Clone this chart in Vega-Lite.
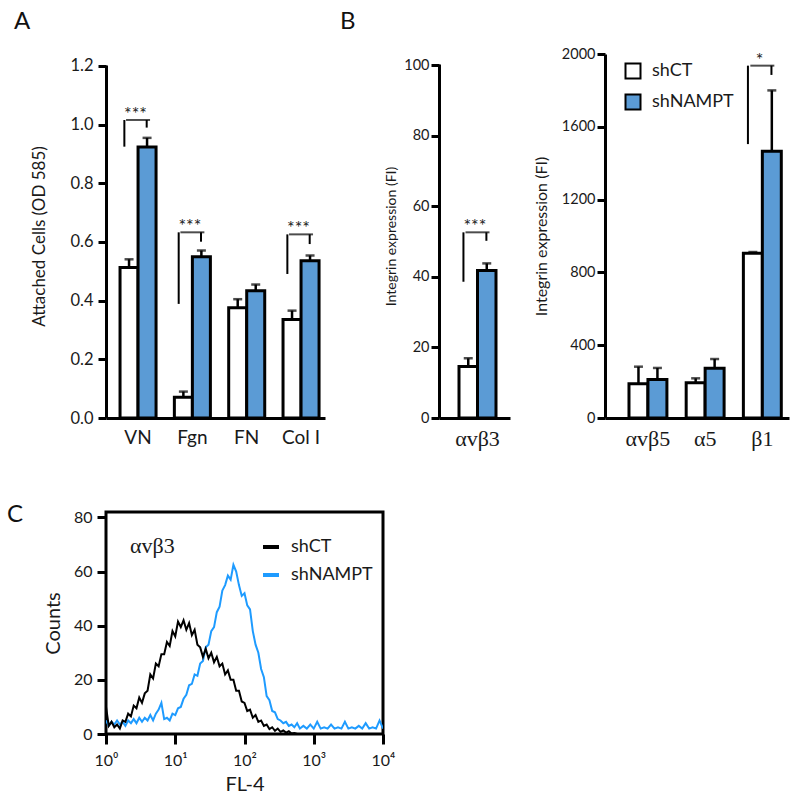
{
  "$schema": "https://vega.github.io/schema/vega-lite/v6.json",
  "autosize": {"type": "pad"},
  "padding": {"left": 5, "top": 10, "right": 5, "bottom": 5},
  "columns": 3,
  "align": "each",
  "bounds": "flush",
  "spacing": {"row": 94, "column": 56},
  "resolve": {"scale": {"fill": "independent", "xOffset": "independent", "stroke": "independent"}, "legend": {"fill": "independent", "stroke": "independent"}},
  "datasets": {
    "barsA": [
      {"cat": "VN", "group": "shCT", "value": 0.513, "hi": 0.541},
      {"cat": "VN", "group": "shNAMPT", "value": 0.924, "hi": 0.955},
      {"cat": "Fgn", "group": "shCT", "value": 0.071, "hi": 0.09},
      {"cat": "Fgn", "group": "shNAMPT", "value": 0.55, "hi": 0.571},
      {"cat": "FN", "group": "shCT", "value": 0.376, "hi": 0.405},
      {"cat": "FN", "group": "shNAMPT", "value": 0.434, "hi": 0.455},
      {"cat": "Col I", "group": "shCT", "value": 0.336, "hi": 0.366},
      {"cat": "Col I", "group": "shNAMPT", "value": 0.536, "hi": 0.554}
    ],
    "brA": [
      {"cat": "VN", "low1": 0.925, "top": 1.016, "low2": 0.99, "stars": "***"},
      {"cat": "Fgn", "low1": 0.389, "top": 0.633, "low2": 0.601, "stars": "***"},
      {"cat": "Col I", "low1": 0.491, "top": 0.626, "low2": 0.593, "stars": "***"}
    ],
    "barsBL": [
      {"cat": "αvβ3", "group": "shCT", "value": 14.6, "hi": 16.9},
      {"cat": "αvβ3", "group": "shNAMPT", "value": 41.8, "hi": 43.8}
    ],
    "brBL": [
      {"cat": "αvβ3", "low1": 38.6, "top": 52.6, "low2": 50.2, "stars": "***"}
    ],
    "barsBR": [
      {"cat": "αvβ5", "group": "shCT", "value": 188, "hi": 282},
      {"cat": "αvβ5", "group": "shNAMPT", "value": 212, "hi": 275},
      {"cat": "α5", "group": "shCT", "value": 194, "hi": 218},
      {"cat": "α5", "group": "shNAMPT", "value": 273, "hi": 324},
      {"cat": "β1", "group": "shCT", "value": 905, "hi": 912},
      {"cat": "β1", "group": "shNAMPT", "value": 1465, "hi": 1800}
    ],
    "brBR": [
      {"cat": "β1", "low1": 1505, "top": 1936, "low2": 1885, "stars": "*"}
    ],
    "flow": [
      {"sample": "shNAMPT", "fl": 1, "count": 5},
      {"sample": "shNAMPT", "fl": 1.096, "count": 3},
      {"sample": "shNAMPT", "fl": 1.202, "count": 4.5},
      {"sample": "shNAMPT", "fl": 1.318, "count": 3.5},
      {"sample": "shNAMPT", "fl": 1.445, "count": 5},
      {"sample": "shNAMPT", "fl": 1.585, "count": 3.5},
      {"sample": "shNAMPT", "fl": 1.738, "count": 4.5},
      {"sample": "shNAMPT", "fl": 1.905, "count": 3},
      {"sample": "shNAMPT", "fl": 2.089, "count": 5},
      {"sample": "shNAMPT", "fl": 2.291, "count": 4},
      {"sample": "shNAMPT", "fl": 2.512, "count": 5.5},
      {"sample": "shNAMPT", "fl": 2.754, "count": 4},
      {"sample": "shNAMPT", "fl": 3.02, "count": 6},
      {"sample": "shNAMPT", "fl": 3.311, "count": 4.5},
      {"sample": "shNAMPT", "fl": 3.631, "count": 6},
      {"sample": "shNAMPT", "fl": 3.981, "count": 5},
      {"sample": "shNAMPT", "fl": 4.365, "count": 7},
      {"sample": "shNAMPT", "fl": 4.786, "count": 5},
      {"sample": "shNAMPT", "fl": 5.248, "count": 7.5},
      {"sample": "shNAMPT", "fl": 5.754, "count": 9},
      {"sample": "shNAMPT", "fl": 6.31, "count": 11.5},
      {"sample": "shNAMPT", "fl": 6.918, "count": 5.5},
      {"sample": "shNAMPT", "fl": 7.586, "count": 6},
      {"sample": "shNAMPT", "fl": 8.318, "count": 5},
      {"sample": "shNAMPT", "fl": 9.12, "count": 7.5},
      {"sample": "shNAMPT", "fl": 10, "count": 7},
      {"sample": "shNAMPT", "fl": 10.96, "count": 9.5},
      {"sample": "shNAMPT", "fl": 12.02, "count": 10},
      {"sample": "shNAMPT", "fl": 13.18, "count": 13},
      {"sample": "shNAMPT", "fl": 14.45, "count": 14.5},
      {"sample": "shNAMPT", "fl": 15.85, "count": 18},
      {"sample": "shNAMPT", "fl": 17.38, "count": 18.5},
      {"sample": "shNAMPT", "fl": 19.05, "count": 22},
      {"sample": "shNAMPT", "fl": 20.89, "count": 21.5},
      {"sample": "shNAMPT", "fl": 22.91, "count": 26},
      {"sample": "shNAMPT", "fl": 25.12, "count": 27},
      {"sample": "shNAMPT", "fl": 27.54, "count": 32},
      {"sample": "shNAMPT", "fl": 30.2, "count": 33},
      {"sample": "shNAMPT", "fl": 33.11, "count": 38},
      {"sample": "shNAMPT", "fl": 36.31, "count": 39.5},
      {"sample": "shNAMPT", "fl": 39.81, "count": 45},
      {"sample": "shNAMPT", "fl": 43.65, "count": 47},
      {"sample": "shNAMPT", "fl": 47.86, "count": 53},
      {"sample": "shNAMPT", "fl": 52.48, "count": 55},
      {"sample": "shNAMPT", "fl": 57.54, "count": 58.5},
      {"sample": "shNAMPT", "fl": 63.1, "count": 57},
      {"sample": "shNAMPT", "fl": 69.18, "count": 62.5},
      {"sample": "shNAMPT", "fl": 75.86, "count": 60},
      {"sample": "shNAMPT", "fl": 83.18, "count": 55},
      {"sample": "shNAMPT", "fl": 91.2, "count": 51},
      {"sample": "shNAMPT", "fl": 100, "count": 52},
      {"sample": "shNAMPT", "fl": 109.6, "count": 47.5},
      {"sample": "shNAMPT", "fl": 120.2, "count": 46},
      {"sample": "shNAMPT", "fl": 131.8, "count": 38},
      {"sample": "shNAMPT", "fl": 144.5, "count": 33},
      {"sample": "shNAMPT", "fl": 158.5, "count": 30},
      {"sample": "shNAMPT", "fl": 173.8, "count": 24},
      {"sample": "shNAMPT", "fl": 190.5, "count": 21},
      {"sample": "shNAMPT", "fl": 208.9, "count": 14},
      {"sample": "shNAMPT", "fl": 229.1, "count": 12.5},
      {"sample": "shNAMPT", "fl": 251.2, "count": 8.5},
      {"sample": "shNAMPT", "fl": 275.4, "count": 8},
      {"sample": "shNAMPT", "fl": 302, "count": 5.5},
      {"sample": "shNAMPT", "fl": 331.1, "count": 5},
      {"sample": "shNAMPT", "fl": 363.1, "count": 4},
      {"sample": "shNAMPT", "fl": 398.1, "count": 4.5},
      {"sample": "shNAMPT", "fl": 436.5, "count": 3},
      {"sample": "shNAMPT", "fl": 478.6, "count": 3.5},
      {"sample": "shNAMPT", "fl": 524.8, "count": 2.5},
      {"sample": "shNAMPT", "fl": 575.4, "count": 4},
      {"sample": "shNAMPT", "fl": 631, "count": 2},
      {"sample": "shNAMPT", "fl": 707.9, "count": 3},
      {"sample": "shNAMPT", "fl": 794.3, "count": 2},
      {"sample": "shNAMPT", "fl": 891.3, "count": 3.5},
      {"sample": "shNAMPT", "fl": 1000, "count": 2},
      {"sample": "shNAMPT", "fl": 1122, "count": 4.5},
      {"sample": "shNAMPT", "fl": 1259, "count": 2},
      {"sample": "shNAMPT", "fl": 1413, "count": 2.5},
      {"sample": "shNAMPT", "fl": 1585, "count": 2},
      {"sample": "shNAMPT", "fl": 1778, "count": 3.5},
      {"sample": "shNAMPT", "fl": 1995, "count": 2},
      {"sample": "shNAMPT", "fl": 2239, "count": 2.5},
      {"sample": "shNAMPT", "fl": 2512, "count": 2},
      {"sample": "shNAMPT", "fl": 2818, "count": 4.5},
      {"sample": "shNAMPT", "fl": 3162, "count": 2},
      {"sample": "shNAMPT", "fl": 3548, "count": 2.5},
      {"sample": "shNAMPT", "fl": 3981, "count": 2},
      {"sample": "shNAMPT", "fl": 4467, "count": 3},
      {"sample": "shNAMPT", "fl": 5012, "count": 2},
      {"sample": "shNAMPT", "fl": 5623, "count": 4},
      {"sample": "shNAMPT", "fl": 6310, "count": 2},
      {"sample": "shNAMPT", "fl": 7079, "count": 2.5},
      {"sample": "shNAMPT", "fl": 7943, "count": 2},
      {"sample": "shNAMPT", "fl": 8913, "count": 5},
      {"sample": "shNAMPT", "fl": 10000, "count": 2},
      {"sample": "shCT", "fl": 1, "count": 10},
      {"sample": "shCT", "fl": 1.096, "count": 3},
      {"sample": "shCT", "fl": 1.202, "count": 4.5},
      {"sample": "shCT", "fl": 1.318, "count": 2.5},
      {"sample": "shCT", "fl": 1.445, "count": 3.5},
      {"sample": "shCT", "fl": 1.585, "count": 2},
      {"sample": "shCT", "fl": 1.738, "count": 5},
      {"sample": "shCT", "fl": 1.905, "count": 4.5},
      {"sample": "shCT", "fl": 2.089, "count": 7.5},
      {"sample": "shCT", "fl": 2.291, "count": 6.5},
      {"sample": "shCT", "fl": 2.512, "count": 10.5},
      {"sample": "shCT", "fl": 2.754, "count": 9.5},
      {"sample": "shCT", "fl": 3.02, "count": 13.5},
      {"sample": "shCT", "fl": 3.311, "count": 11.5},
      {"sample": "shCT", "fl": 3.631, "count": 15},
      {"sample": "shCT", "fl": 3.981, "count": 16},
      {"sample": "shCT", "fl": 4.365, "count": 22},
      {"sample": "shCT", "fl": 4.786, "count": 20.5},
      {"sample": "shCT", "fl": 5.248, "count": 26},
      {"sample": "shCT", "fl": 5.754, "count": 25},
      {"sample": "shCT", "fl": 6.31, "count": 29.5},
      {"sample": "shCT", "fl": 6.918, "count": 29.5},
      {"sample": "shCT", "fl": 7.586, "count": 34},
      {"sample": "shCT", "fl": 8.318, "count": 32.5},
      {"sample": "shCT", "fl": 9.12, "count": 38},
      {"sample": "shCT", "fl": 10, "count": 36},
      {"sample": "shCT", "fl": 10.96, "count": 41.5},
      {"sample": "shCT", "fl": 12.02, "count": 39.5},
      {"sample": "shCT", "fl": 13.18, "count": 42},
      {"sample": "shCT", "fl": 14.45, "count": 38.5},
      {"sample": "shCT", "fl": 15.85, "count": 41},
      {"sample": "shCT", "fl": 17.38, "count": 36.5},
      {"sample": "shCT", "fl": 19.05, "count": 38.5},
      {"sample": "shCT", "fl": 20.89, "count": 33},
      {"sample": "shCT", "fl": 22.91, "count": 32},
      {"sample": "shCT", "fl": 25.12, "count": 28.5},
      {"sample": "shCT", "fl": 27.54, "count": 31.5},
      {"sample": "shCT", "fl": 30.2, "count": 28},
      {"sample": "shCT", "fl": 33.11, "count": 30},
      {"sample": "shCT", "fl": 36.31, "count": 26.5},
      {"sample": "shCT", "fl": 39.81, "count": 28.5},
      {"sample": "shCT", "fl": 43.65, "count": 25},
      {"sample": "shCT", "fl": 47.86, "count": 26},
      {"sample": "shCT", "fl": 52.48, "count": 22},
      {"sample": "shCT", "fl": 57.54, "count": 23.5},
      {"sample": "shCT", "fl": 63.1, "count": 20},
      {"sample": "shCT", "fl": 69.18, "count": 20},
      {"sample": "shCT", "fl": 75.86, "count": 16},
      {"sample": "shCT", "fl": 83.18, "count": 16},
      {"sample": "shCT", "fl": 91.2, "count": 12},
      {"sample": "shCT", "fl": 100, "count": 11.5},
      {"sample": "shCT", "fl": 109.6, "count": 8.5},
      {"sample": "shCT", "fl": 120.2, "count": 9},
      {"sample": "shCT", "fl": 131.8, "count": 6},
      {"sample": "shCT", "fl": 144.5, "count": 7},
      {"sample": "shCT", "fl": 158.5, "count": 4.5},
      {"sample": "shCT", "fl": 173.8, "count": 5},
      {"sample": "shCT", "fl": 190.5, "count": 3},
      {"sample": "shCT", "fl": 208.9, "count": 3.5},
      {"sample": "shCT", "fl": 229.1, "count": 1.8},
      {"sample": "shCT", "fl": 251.2, "count": 2.5},
      {"sample": "shCT", "fl": 275.4, "count": 1.2},
      {"sample": "shCT", "fl": 302, "count": 2},
      {"sample": "shCT", "fl": 331.1, "count": 0.8},
      {"sample": "shCT", "fl": 363.1, "count": 1.3},
      {"sample": "shCT", "fl": 398.1, "count": 0.5},
      {"sample": "shCT", "fl": 436.5, "count": 1},
      {"sample": "shCT", "fl": 478.6, "count": 0.2},
      {"sample": "shCT", "fl": 524.8, "count": 0.4},
      {"sample": "shCT", "fl": 575.4, "count": 0},
      {"sample": "shCT", "fl": 631, "count": 0}
    ]
  },
  "concat": [
    {
      "width": 277,
      "height": 364,
      "title": {"text": "A", "anchor": "start", "frame": "group", "dx": -92, "offset": 20, "fontSize": 24, "fontWeight": "normal", "font": "Lato", "color": "#111111"},
      "layer": [
        {
          "data": {"name": "barsA"},
          "mark": {"type": "bar", "stroke": "black", "strokeWidth": 3},
          "encoding": {
            "x": {"field": "cat", "type": "nominal", "scale": {"domain": ["VN", "Fgn", "FN", "Col I"], "paddingInner": 0.337, "paddingOuter": 0.7176, "align": 0.18}, "axis": {"title": null, "labelAngle": 0, "ticks": false, "tickSize": 0, "labelPadding": 10, "labelFontSize": 19, "domainDash": [219, 400]}},
            "xOffset": {"field": "group", "type": "nominal", "scale": {"domain": ["shCT", "shNAMPT"], "paddingInner": 0, "paddingOuter": 0}},
            "y": {"field": "value", "type": "quantitative", "stack": null, "scale": {"domain": [0, 1.2409], "nice": false}, "axis": {"title": "Attached Cells (OD 585)", "values": [0, 0.2, 0.4, 0.6, 0.8, 1, 1.2], "format": ".1f", "domainDash": [353, 400], "titlePadding": 21, "titleFontSize": 17, "labelFontSize": 16.5, "labelPadding": 5}},
            "fill": {"field": "group", "type": "nominal", "scale": {"domain": ["shCT", "shNAMPT"], "range": ["#ffffff", "#5b9bd5"]}, "legend": null}
          }
        },
        {
          "data": {"name": "barsA"},
          "mark": {"type": "rule", "color": "black", "strokeWidth": 2.5},
          "encoding": {
            "x": {"field": "cat", "type": "nominal"},
            "xOffset": {"field": "group", "type": "nominal"},
            "y": {"field": "value", "type": "quantitative"},
            "y2": {"field": "hi"}
          }
        },
        {
          "data": {"name": "barsA"},
          "mark": {"type": "tick", "orient": "horizontal", "color": "black", "size": 9, "thickness": 2.5},
          "encoding": {
            "x": {"field": "cat", "type": "nominal"},
            "xOffset": {"field": "group", "type": "nominal"},
            "y": {"field": "hi", "type": "quantitative"}
          }
        },
        {
          "data": {"name": "brA"},
          "mark": {"type": "rule", "color": "black", "strokeWidth": 2},
          "encoding": {
            "x": {"field": "cat", "type": "nominal", "bandPosition": 0.12},
            "y": {"field": "low1", "type": "quantitative"},
            "y2": {"field": "top"}
          }
        },
        {
          "data": {"name": "brA"},
          "mark": {"type": "rule", "color": "black", "strokeWidth": 2},
          "encoding": {
            "x": {"field": "cat", "type": "nominal", "bandPosition": 0.74},
            "y": {"field": "low2", "type": "quantitative"},
            "y2": {"field": "top"}
          }
        },
        {
          "data": {"name": "brA"},
          "mark": {"type": "tick", "orient": "horizontal", "color": "black", "size": 24, "thickness": 2},
          "encoding": {
            "x": {"field": "cat", "type": "nominal", "bandPosition": 0.43},
            "y": {"field": "top", "type": "quantitative"}
          }
        },
        {
          "data": {"name": "brA"},
          "mark": {"type": "text", "fontSize": 18, "baseline": "alphabetic", "color": "#1a1a1a", "font": "Lato"},
          "encoding": {
            "x": {"field": "cat", "type": "nominal", "bandPosition": 0.43},
            "y": {"field": "top", "type": "quantitative"},
            "text": {"field": "stars"}
          }
        }
      ]
    },
    {
      "width": 110,
      "height": 364,
      "title": {"text": "B", "anchor": "start", "frame": "group", "dx": -99, "offset": 20, "fontSize": 24, "fontWeight": "normal", "font": "Lato", "color": "#111111"},
      "layer": [
        {
          "data": {"name": "barsBL"},
          "mark": {"type": "bar", "stroke": "black", "strokeWidth": 3},
          "encoding": {
            "x": {"field": "cat", "type": "nominal", "scale": {"domain": ["αvβ3"], "paddingInner": 0.337, "paddingOuter": 0.654, "align": 0.274}, "axis": {"title": null, "labelAngle": 0, "ticks": false, "tickSize": 0, "labelPadding": 10, "labelFontSize": 22, "labelFont": "Liberation Serif", "domainDash": [71, 400]}},
            "xOffset": {"field": "group", "type": "nominal", "scale": {"domain": ["shCT", "shNAMPT"], "paddingInner": 0, "paddingOuter": 0}},
            "y": {"field": "value", "type": "quantitative", "stack": null, "scale": {"domain": [0, 103.12], "nice": false}, "axis": {"title": "Integrin expression (FI)", "values": [0, 20, 40, 60, 80, 100], "domainDash": [354, 400], "titlePadding": 5, "titleFontSize": 14, "labelFontSize": 14.5}},
            "fill": {"field": "group", "type": "nominal", "scale": {"domain": ["shCT", "shNAMPT"], "range": ["#ffffff", "#5b9bd5"]}, "legend": null}
          }
        },
        {
          "data": {"name": "barsBL"},
          "mark": {"type": "rule", "color": "black", "strokeWidth": 2.5},
          "encoding": {
            "x": {"field": "cat", "type": "nominal"},
            "xOffset": {"field": "group", "type": "nominal"},
            "y": {"field": "value", "type": "quantitative"},
            "y2": {"field": "hi"}
          }
        },
        {
          "data": {"name": "barsBL"},
          "mark": {"type": "tick", "orient": "horizontal", "color": "black", "size": 9, "thickness": 2.5},
          "encoding": {
            "x": {"field": "cat", "type": "nominal"},
            "xOffset": {"field": "group", "type": "nominal"},
            "y": {"field": "hi", "type": "quantitative"}
          }
        },
        {
          "data": {"name": "brBL"},
          "mark": {"type": "rule", "color": "black", "strokeWidth": 2},
          "encoding": {
            "x": {"field": "cat", "type": "nominal", "bandPosition": 0.12},
            "y": {"field": "low1", "type": "quantitative"},
            "y2": {"field": "top"}
          }
        },
        {
          "data": {"name": "brBL"},
          "mark": {"type": "rule", "color": "black", "strokeWidth": 2},
          "encoding": {
            "x": {"field": "cat", "type": "nominal", "bandPosition": 0.74},
            "y": {"field": "low2", "type": "quantitative"},
            "y2": {"field": "top"}
          }
        },
        {
          "data": {"name": "brBL"},
          "mark": {"type": "tick", "orient": "horizontal", "color": "black", "size": 24, "thickness": 2},
          "encoding": {
            "x": {"field": "cat", "type": "nominal", "bandPosition": 0.43},
            "y": {"field": "top", "type": "quantitative"}
          }
        },
        {
          "data": {"name": "brBL"},
          "mark": {"type": "text", "fontSize": 18, "baseline": "alphabetic", "color": "#1a1a1a", "font": "Lato"},
          "encoding": {
            "x": {"field": "cat", "type": "nominal", "bandPosition": 0.43},
            "y": {"field": "top", "type": "quantitative"},
            "text": {"field": "stars"}
          }
        }
      ]
    },
    {
      "width": 184,
      "height": 364,
      "layer": [
        {
          "data": {"name": "barsBR"},
          "mark": {"type": "bar", "stroke": "black", "strokeWidth": 3},
          "encoding": {
            "x": {"field": "cat", "type": "nominal", "scale": {"domain": ["αvβ5", "α5", "β1"], "paddingInner": 0.337, "paddingOuter": 0.277, "align": 0.757}, "axis": {"title": null, "labelAngle": 0, "ticks": false, "tickSize": 0, "labelPadding": 10, "labelFontSize": 22, "labelFont": "Liberation Serif"}},
            "xOffset": {"field": "group", "type": "nominal", "scale": {"domain": ["shCT", "shNAMPT"], "paddingInner": 0, "paddingOuter": 0}},
            "y": {"field": "value", "type": "quantitative", "stack": null, "scale": {"domain": [0, 2000], "nice": false}, "axis": {"title": "Integrin expression (FI)", "values": [0, 400, 800, 1200, 1600, 2000], "format": "d", "titlePadding": 12, "titleFontSize": 16, "labelFontSize": 14.5}},
            "fill": {"field": "group", "type": "nominal", "scale": {"domain": ["shCT", "shNAMPT"], "range": ["#ffffff", "#5b9bd5"]}, "legend": {"orient": "none", "legendX": 19, "legendY": 8, "title": null, "symbolType": "square", "symbolSize": 225, "symbolStrokeColor": "black", "symbolStrokeWidth": 2, "labelFontSize": 18, "labelFont": "Lato", "labelColor": "#1a1a1a", "labelOffset": 10, "rowPadding": 7, "padding": 0}}
          }
        },
        {
          "data": {"name": "barsBR"},
          "mark": {"type": "rule", "color": "black", "strokeWidth": 2.5},
          "encoding": {
            "x": {"field": "cat", "type": "nominal"},
            "xOffset": {"field": "group", "type": "nominal"},
            "y": {"field": "value", "type": "quantitative"},
            "y2": {"field": "hi"}
          }
        },
        {
          "data": {"name": "barsBR"},
          "mark": {"type": "tick", "orient": "horizontal", "color": "black", "size": 9, "thickness": 2.5},
          "encoding": {
            "x": {"field": "cat", "type": "nominal"},
            "xOffset": {"field": "group", "type": "nominal"},
            "y": {"field": "hi", "type": "quantitative"}
          }
        },
        {
          "data": {"name": "brBR"},
          "mark": {"type": "rule", "color": "black", "strokeWidth": 2},
          "encoding": {
            "x": {"field": "cat", "type": "nominal", "bandPosition": 0.12},
            "y": {"field": "low1", "type": "quantitative"},
            "y2": {"field": "top"}
          }
        },
        {
          "data": {"name": "brBR"},
          "mark": {"type": "rule", "color": "black", "strokeWidth": 2},
          "encoding": {
            "x": {"field": "cat", "type": "nominal", "bandPosition": 0.74},
            "y": {"field": "low2", "type": "quantitative"},
            "y2": {"field": "top"}
          }
        },
        {
          "data": {"name": "brBR"},
          "mark": {"type": "tick", "orient": "horizontal", "color": "black", "size": 24, "thickness": 2},
          "encoding": {
            "x": {"field": "cat", "type": "nominal", "bandPosition": 0.43},
            "y": {"field": "top", "type": "quantitative"}
          }
        },
        {
          "data": {"name": "brBR"},
          "mark": {"type": "text", "fontSize": 18, "baseline": "alphabetic", "color": "#1a1a1a", "font": "Lato"},
          "encoding": {
            "x": {"field": "cat", "type": "nominal", "bandPosition": 0.43},
            "y": {"field": "top", "type": "quantitative"},
            "text": {"field": "stars"}
          }
        }
      ]
    },
    {
      "width": 277,
      "height": 222,
      "view": {"stroke": "black", "strokeWidth": 3},
      "title": {"text": "C", "anchor": "start", "frame": "group", "dx": -99, "offset": -18, "fontSize": 24, "fontWeight": "normal", "font": "Lato", "color": "#111111"},
      "layer": [
        {
          "data": {"name": "flow"},
          "mark": {"type": "line", "strokeWidth": 2, "clip": true},
          "encoding": {
            "x": {"field": "fl", "type": "quantitative", "scale": {"type": "log", "domain": [1, 10000], "nice": false}, "axis": {"title": "FL-4", "values": [1, 10, 100, 1000, 10000], "labelExpr": "datum.value == 1 ? '10⁰' : datum.value == 10 ? '10¹' : datum.value == 100 ? '10²' : datum.value == 1000 ? '10³' : '10⁴'", "domain": false, "tickSize": 10, "tickWidth": 3, "labelFontSize": 16, "labelPadding": 8, "titleFontSize": 20, "titlePadding": 6}},
            "y": {"field": "count", "type": "quantitative", "scale": {"domain": [0, 82], "nice": false}, "axis": {"title": "Counts", "values": [0, 20, 40, 60, 80], "domain": false, "tickSize": 9, "tickWidth": 3, "labelFontSize": 16, "labelPadding": 5, "titleFontSize": 20, "titlePadding": 10}},
            "stroke": {"field": "sample", "type": "nominal", "scale": {"domain": ["shCT", "shNAMPT"], "range": ["#000000", "#1e9bff"]}, "legend": {"orient": "none", "legendX": 155, "legendY": 25, "title": null, "symbolType": "stroke", "symbolSize": 256, "symbolStrokeWidth": 4, "labelFontSize": 18, "labelFont": "Lato", "labelColor": "#1a1a1a", "labelOffset": 10, "rowPadding": 9, "padding": 0}}
          }
        },
        {
          "data": {"values": [{"label": "αvβ3"}]},
          "mark": {"type": "text", "font": "Liberation Serif", "fontSize": 22, "align": "left", "baseline": "alphabetic", "color": "#1a1a1a"},
          "encoding": {
            "x": {"datum": 2.22, "type": "quantitative"},
            "y": {"datum": 67, "type": "quantitative"},
            "text": {"field": "label"}
          }
        }
      ]
    }
  ],
  "config": {
    "font": "Lato",
    "view": {"stroke": null},
    "axis": {
      "grid": false,
      "domainColor": "black",
      "domainWidth": 3,
      "tickColor": "black",
      "tickWidth": 3,
      "tickSize": 8,
      "labelColor": "#1a1a1a",
      "labelFont": "Lato",
      "labelFontSize": 14,
      "labelPadding": 2,
      "labelFlush": false,
      "labelOverlap": false,
      "titleColor": "#1a1a1a",
      "titleFont": "Lato",
      "titleFontWeight": "normal",
      "titleFontSize": 15
    }
  }
}
